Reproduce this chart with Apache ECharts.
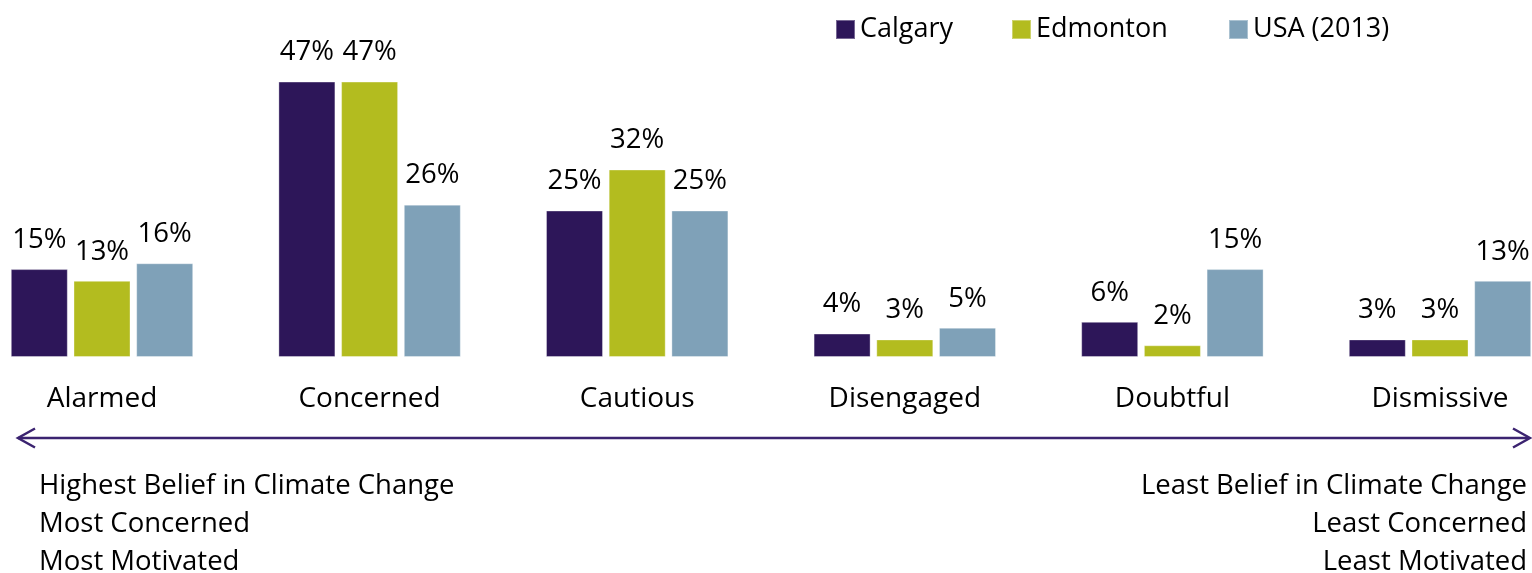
<!DOCTYPE html>
<html>
<head>
<meta charset="utf-8">
<script src="https://cdn.jsdelivr.net/npm/echarts@6/dist/echarts.min.js"></script>
<style>
html,body{margin:0;padding:0;background:#fff;}
#chart{width:1532px;height:573px;}
</style>
</head>
<body>
<div id="chart"></div>
<script>
const categories = ['Alarmed', 'Concerned', 'Cautious', 'Disengaged', 'Doubtful', 'Dismissive'];
const calgary = [15, 47, 25, 4, 6, 3];
const edmonton = [13, 47, 32, 3, 2, 3];
const usa2013 = [16, 26, 25, 5, 15, 13];
const seriesNames = ['Calgary', 'Edmonton', 'USA (2013)'];
const leftNotes = ['Highest Belief in Climate Change', 'Most Concerned', 'Most Motivated'];
const rightNotes = ['Least Belief in Climate Change', 'Least Concerned', 'Least Motivated'];

const FONT = 'Open Sans';
const colors = ['#2d1659', '#b3bc1f', '#7fa1b8'];
const arrowColor = '#3b2370';

const chart = echarts.init(document.getElementById('chart'), null, {renderer: 'canvas'});

function mkSeries(name, data, color) {
  return {
    name: name,
    type: 'bar',
    data: data,
    barWidth: 57,
    barGap: '10%',
    clip: false,
    itemStyle: {color: color, borderColor: 'rgba(255,255,255,0.35)', borderWidth: 1},
    label: {
      show: true,
      position: 'top',
      distance: 15,
      formatter: '{c}%',
      color: '#000',
      fontFamily: FONT,
      fontSize: 27.5
    },
    emphasis: {disabled: true}
  };
}

const legendLefts = [830, 1006, 1223];
const legends = seriesNames.map((n, i) => ({
  data: [n],
  left: legendLefts[i],
  top: 11,
  icon: 'rect',
  itemWidth: 19,
  itemHeight: 19,
  itemGap: 8,
  textStyle: {fontFamily: FONT, fontSize: 27, color: '#000'},
  selectedMode: false
}));

const graphics = [
  {type: 'line', shape: {x1: 18, y1: 438, x2: 1529, y2: 438}, style: {stroke: arrowColor, lineWidth: 2.5}},
  {type: 'polyline', shape: {points: [[35, 428.5], [18, 438], [35, 447.5]]}, style: {stroke: arrowColor, lineWidth: 2.5, fill: null}},
  {type: 'polyline', shape: {points: [[1513, 428.5], [1530, 438], [1513, 447.5]]}, style: {stroke: arrowColor, lineWidth: 2.5, fill: null}}
];
leftNotes.forEach((t, i) => {
  graphics.push({type: 'text', left: 39, top: 472 + i * 38, style: {text: t, fontFamily: FONT, fontSize: 27.5, fill: '#000'}});
});
rightNotes.forEach((t, i) => {
  graphics.push({type: 'text', right: 5, top: 472 + i * 38, style: {text: t, fontFamily: FONT, fontSize: 27.5, fill: '#000', align: 'right'}});
});

chart.setOption({
  animation: false,
  backgroundColor: '#fff',
  legend: legends,
  grid: {left: 102, right: 92, top: 64, bottom: 216, containLabel: false},
  xAxis: {
    type: 'category',
    data: categories,
    boundaryGap: false,
    axisLine: {show: false},
    axisTick: {show: false},
    axisLabel: {color: '#000', fontFamily: FONT, fontSize: 28, margin: 28, showMinLabel: true, showMaxLabel: true}
  },
  yAxis: {
    type: 'value',
    min: 0,
    max: 50,
    show: false,
    splitLine: {show: false}
  },
  series: [
    mkSeries(seriesNames[0], calgary, colors[0]),
    mkSeries(seriesNames[1], edmonton, colors[1]),
    mkSeries(seriesNames[2], usa2013, colors[2])
  ],
  graphic: graphics
});
</script>
</body>
</html>
